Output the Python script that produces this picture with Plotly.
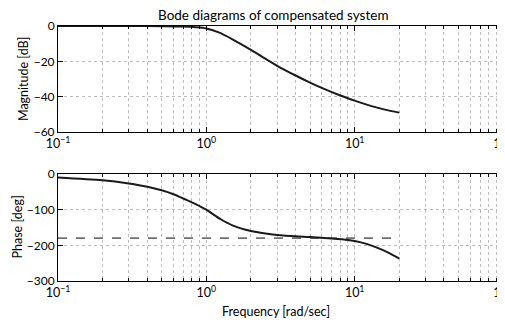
import plotly.graph_objects as go

# Magnitude data
mag_freq = [0.1, 0.2, 0.3, 0.5, 0.7, 0.85, 1.0, 1.2, 1.5, 2.0, 2.5, 3.0, 4.0, 5.0, 6.0, 8.0, 10.0, 13.0, 16.0, 20.0]
mag_db = [0, 0, 0, -0.1, -0.3, -0.7, -1.4, -3.5, -7.5, -13.5, -18.5, -22.5, -28.0, -32.0, -35.0, -39.3, -42.2, -45.3, -47.3, -49.0]

# Phase data
ph_freq = [0.1, 0.2, 0.3, 0.4, 0.5, 0.6, 0.7, 0.8, 0.9, 1.0, 1.1, 1.25, 1.5, 2.0, 2.5, 3.0, 4.0, 5.0, 7.0, 9.0, 10.0, 12.0, 14.0, 17.0, 20.0]
ph_deg = [-10, -18, -27, -36, -46, -57, -69, -80, -90, -100, -112, -127, -144, -160, -167, -171, -175, -177, -181, -185, -188, -196, -206, -221, -237]

# Reference line
ref_freq = [0.1, 20.0]
ref_deg = [-180, -180]

x_tickvals = [0.1, 1, 10, 100]
x_ticktext = ["10<sup>−1</sup>", "10<sup>0</sup>", "10<sup>1</sup>", "10<sup>2</sup>"]
minor_vals = [m * d for d in (0.1, 1, 10) for m in range(2, 10)]

FONT = "Lato"
GRID = "#bdbdbd"
TOP_DOM = [0.584, 1]
BOT_DOM = [0, 0.42]

fig = go.Figure()
fig.add_trace(go.Scatter(x=mag_freq, y=mag_db, mode="lines", line=dict(color="#1a1a1a", width=2, shape="spline", smoothing=0.8),
                         xaxis="x", yaxis="y", showlegend=False, cliponaxis=False))
fig.add_trace(go.Scatter(x=ref_freq, y=ref_deg, mode="lines", line=dict(color="#707070", width=1.6, dash="dash"),
                         xaxis="x2", yaxis="y2", showlegend=False))
fig.add_trace(go.Scatter(x=ph_freq, y=ph_deg, mode="lines", line=dict(color="#1a1a1a", width=2, shape="spline", smoothing=0.8),
                         xaxis="x2", yaxis="y2", showlegend=False))

xcommon = dict(type="log", range=[-1, 2], tickvals=x_tickvals, ticktext=x_ticktext, automargin=False,
               ticklabeloverflow="allow",
               showgrid=True, gridcolor=GRID, griddash="dot", gridwidth=1,
               minor=dict(tickvals=minor_vals, showgrid=True, gridcolor=GRID, griddash="dot", gridwidth=1,
                          ticks="inside", ticklen=3, tickcolor="black"),
               showline=True, linecolor="black", linewidth=1, mirror="ticks",
               ticks="inside", ticklen=5, tickcolor="black", zeroline=False,
               tickfont=dict(family=FONT, size=12.5, color="black"))
ycommon = dict(showgrid=True, gridcolor=GRID, griddash="dot", gridwidth=1, automargin=False,
               showline=True, linecolor="black", linewidth=1, mirror="ticks",
               ticks="inside", ticklen=5, tickcolor="black", zeroline=False,
               tickfont=dict(family=FONT, size=12, color="black"))

# The page body has an 8px margin, so the figure is sized to fit the 505x320 window.
fig.update_layout(
    width=497, height=312,
    margin=dict(l=50, r=2, t=18, b=39),
    paper_bgcolor="white", plot_bgcolor="white",
    font=dict(family=FONT, size=13, color="black"),
    xaxis=dict(**xcommon, anchor="y", domain=[0, 1]),
    yaxis=dict(**ycommon, range=[-60, 0], tickvals=[-60, -40, -20, 0], domain=TOP_DOM, anchor="x"),
    xaxis2=dict(**xcommon, anchor="y2", domain=[0, 1]),
    yaxis2=dict(**ycommon, range=[-300, 0], tickvals=[-300, -200, -100, 0], domain=BOT_DOM, anchor="x2"),
    annotations=[
        dict(text="Bode diagrams of compensated system", xref="paper", yref="paper",
             x=0.5, y=1, xshift=-7, yshift=1, yanchor="bottom", showarrow=False,
             font=dict(family=FONT, size=13.5, color="black")),
        dict(text="Frequency [rad/sec]", xref="paper", yref="paper",
             x=0.5, y=0, xshift=-5, yshift=-21, yanchor="top", showarrow=False,
             font=dict(family=FONT, size=12.5, color="black")),
        dict(text="Magnitude [dB]", xref="paper", yref="paper", textangle=-90,
             x=0, y=sum(TOP_DOM) / 2, xshift=-35, xanchor="center", yanchor="middle", showarrow=False,
             font=dict(family=FONT, size=12.5, color="black")),
        dict(text="Phase [deg]", xref="paper", yref="paper", textangle=-90,
             x=0, y=sum(BOT_DOM) / 2, xshift=-41, xanchor="center", yanchor="middle", showarrow=False,
             font=dict(family=FONT, size=12.5, color="black")),
    ],
)

fig.write_html("out.html")
